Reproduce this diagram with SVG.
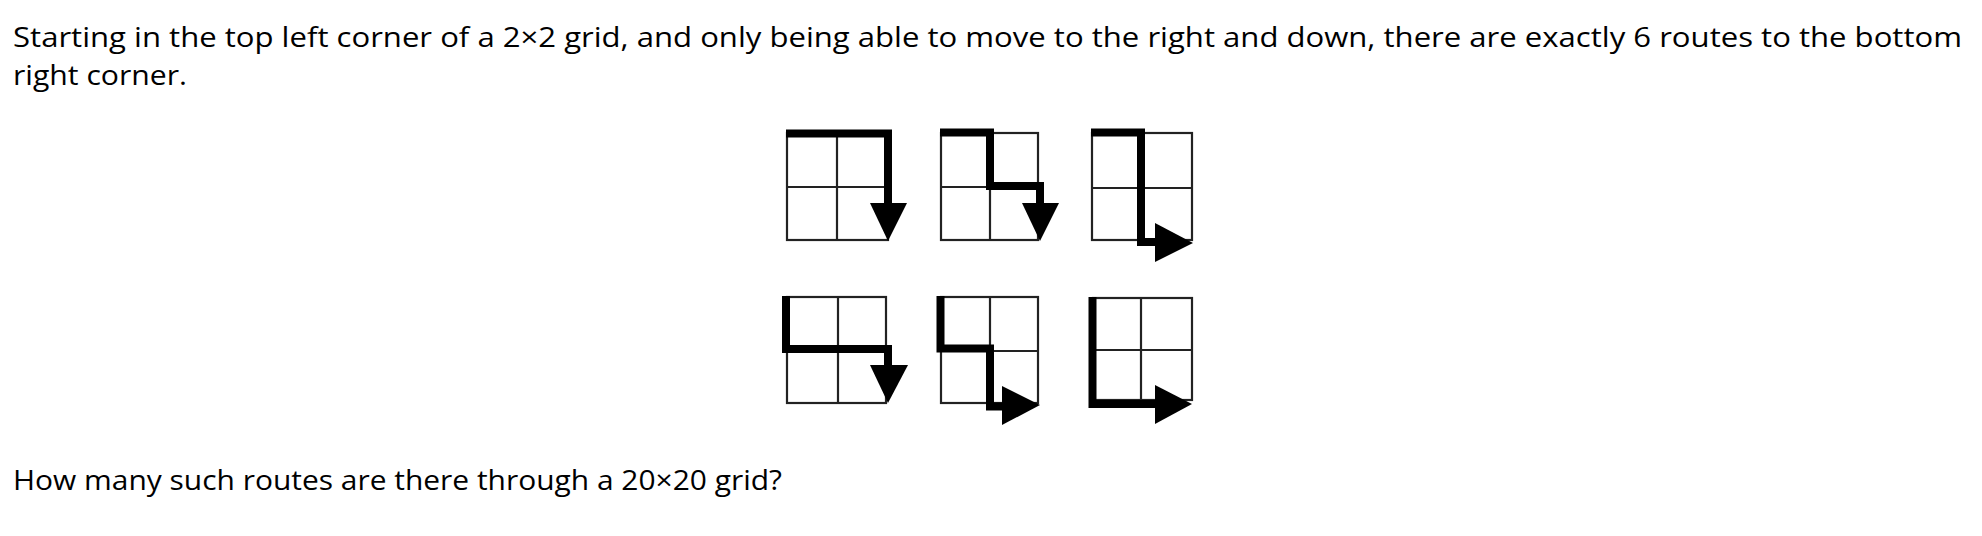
<svg xmlns="http://www.w3.org/2000/svg" width="1982" height="536" viewBox="0 0 1982 536">
<style>
text{font-family:"Open Sans","DejaVu Sans",sans-serif;font-size:27px;font-weight:500;fill:#000}
.grid{fill:none;stroke:#222;stroke-width:2.2}
.route{fill:none;stroke:#000;stroke-width:8;stroke-linejoin:miter;stroke-linecap:square}
.head{fill:#000}
</style>
<rect width="1982" height="536" fill="#fff"/>
<text id="line1" x="13" y="47" textLength="1949" lengthAdjust="spacingAndGlyphs">Starting in the top left corner of a 2×2 grid, and only being able to move to the right and down, there are exactly 6 routes to the bottom</text>
<text id="line2" x="13" y="85" textLength="174" lengthAdjust="spacingAndGlyphs">right corner.</text>
<text id="line3" x="13" y="490" textLength="769" lengthAdjust="spacingAndGlyphs">How many such routes are there through a 20×20 grid?</text>

<g id="grid1">
<rect class="grid" x="787" y="133" width="101" height="107"/>
<path class="grid" d="M837,133V240M787,187H888"/>
<path class="route" d="M790,133.5H888V210"/>
<polygon class="head" points="870,203 907,203 888,241"/>
</g>
<g id="grid2">
<rect class="grid" x="941" y="133" width="97" height="107"/>
<path class="grid" d="M990,133V240M941,187H1038"/>
<path class="route" d="M944,132.5H990V186H1040V210"/>
<polygon class="head" points="1022,203 1059,203 1040,241"/>
</g>
<g id="grid3">
<rect class="grid" x="1092" y="133" width="100" height="107"/>
<path class="grid" d="M1141,133V240M1092,188H1192"/>
<path class="route" d="M1095,132.5H1141V242H1165"/>
<polygon class="head" points="1155,223 1155,262 1193,243"/>
</g>
<g id="grid4">
<rect class="grid" x="787" y="297" width="99" height="106"/>
<path class="grid" d="M838,297V403M787,350H886"/>
<path class="route" d="M786,300V349H888V375"/>
<polygon class="head" points="870,365 908,365 888,403"/>
</g>
<g id="grid5">
<rect class="grid" x="941" y="297" width="97" height="106"/>
<path class="grid" d="M990,297V403M941,351H1038"/>
<path class="route" d="M940.5,300V348.5H990V406.5H1010"/>
<polygon class="head" points="1002,386 1002,425 1040,405"/>
</g>
<g id="grid6">
<rect class="grid" x="1093" y="298" width="99" height="102"/>
<path class="grid" d="M1141,298V400M1093,350H1192"/>
<path class="route" d="M1092.5,301V404H1165"/>
<polygon class="head" points="1155,385 1155,424 1192,404"/>
</g>
</svg>
